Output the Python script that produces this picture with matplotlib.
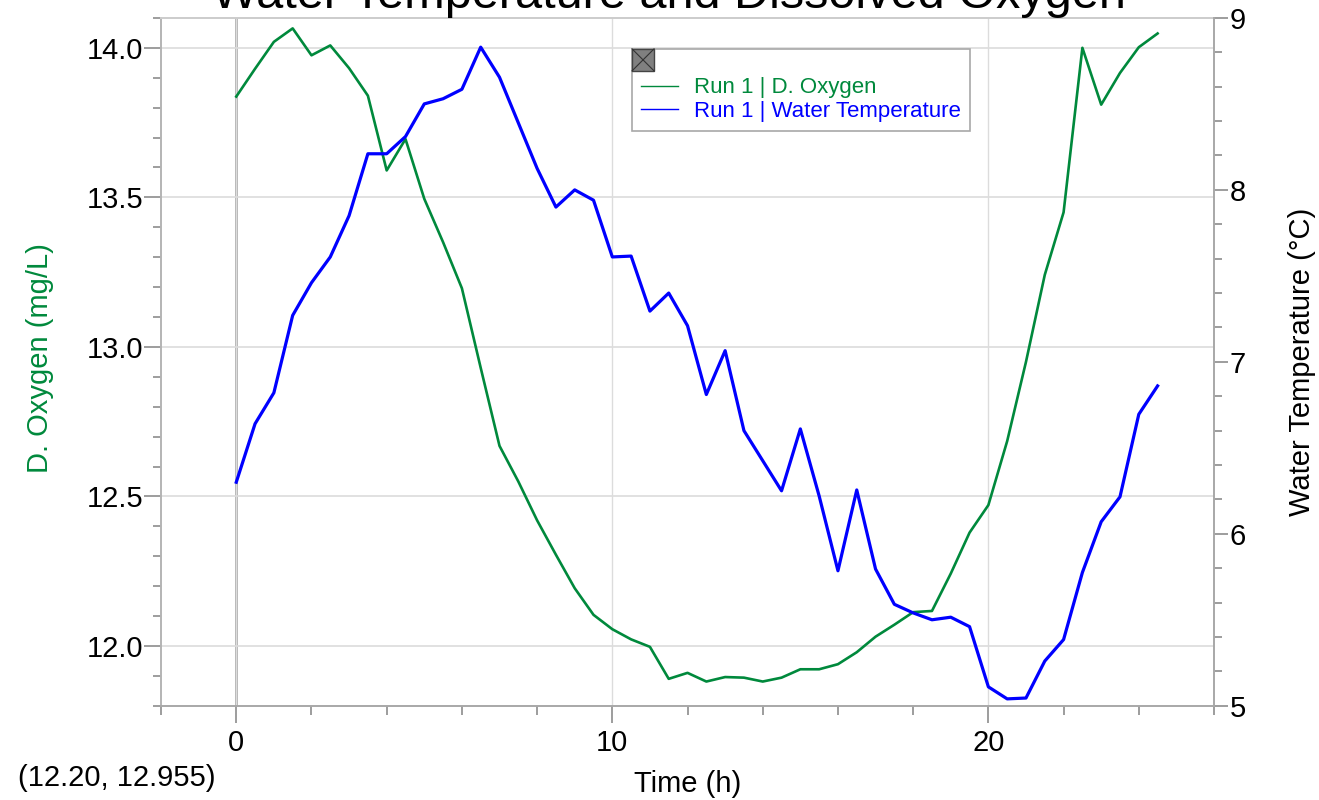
import matplotlib
matplotlib.use("Agg")
import matplotlib.pyplot as plt
from matplotlib.lines import Line2D
from matplotlib.patches import Rectangle
from matplotlib.ticker import MultipleLocator, FixedLocator, FormatStrFormatter

plt.rcParams['font.family'] = ['Liberation Sans', 'DejaVu Sans']

# ---------------------- data ---------------------- #
time_h = [i * 0.5 for i in range(50)]  # samples every half hour, 0 .. 24.5 h

d_oxygen = [13.837, 13.93, 14.02, 14.065, 13.975, 14.008, 13.932, 13.84, 13.59, 13.695,
            13.495, 13.35, 13.196, 12.93, 12.669, 12.55, 12.42, 12.305, 12.193, 12.104,
            12.056, 12.022, 11.997, 11.89, 11.91, 11.881, 11.896, 11.894, 11.881, 11.894,
            11.922, 11.922, 11.939, 11.979, 12.031, 12.071, 12.113, 12.117, 12.242, 12.379,
            12.471, 12.685, 12.95, 13.241, 13.45, 14.0, 13.81, 13.916, 14.002, 14.048]

water_temp = [6.30, 6.64, 6.82, 7.27, 7.46, 7.61, 7.85, 8.21, 8.21, 8.31,
              8.50, 8.53, 8.585, 8.83, 8.655, 8.39, 8.125, 7.90, 8.00, 7.94,
              7.61, 7.615, 7.295, 7.40, 7.21, 6.81, 7.065, 6.60, 6.425, 6.25,
              6.61, 6.22, 5.785, 6.255, 5.795, 5.59, 5.54, 5.50, 5.515, 5.46,
              5.11, 5.04, 5.045, 5.26, 5.385, 5.775, 6.07, 6.215, 6.695, 6.86]

x_major = [0, 10, 20]
status_text = '(12.20, 12.955)'

GREEN = '#00893c'
BLUE = '#0000ff'
TICK_GRAY = '#8c8c8c'
# -------------------------------------------------- #

fig = plt.figure(figsize=(13.19, 8), dpi=100)
ax = fig.add_axes([0.1221, 0.1178, 0.7983, 0.8598])
ax2 = ax.twinx()

ax.set_xlim(-2, 26)
ax.set_ylim(11.8, 14.1)
ax2.set_ylim(5, 9)

# grid + zero line
ax.grid(True, axis='y', which='major', color='#dcdcdc', lw=1.2)
ax.grid(True, axis='x', which='major', color='#dcdcdc', lw=1.0)
ax.axvline(0, color='#9a9a9a', lw=1.8, zorder=1)

ax.plot(time_h, d_oxygen, color=GREEN, lw=1.9, zorder=3)
ax2.plot(time_h, water_temp, color=BLUE, lw=2.3, zorder=3)

# x axis
ax.xaxis.set_major_locator(FixedLocator(x_major))
ax.xaxis.set_minor_locator(MultipleLocator(2))
ax.tick_params(axis='x', which='major', length=12, width=1.2, color=TICK_GRAY,
               labelsize=21, pad=5)
ax.tick_params(axis='x', which='minor', length=6.5, width=1.2, color=TICK_GRAY)

# left axis
ax.yaxis.set_major_locator(MultipleLocator(0.5))
ax.yaxis.set_minor_locator(MultipleLocator(0.1))
ax.yaxis.set_major_formatter(FormatStrFormatter('%.1f'))
ax.tick_params(axis='y', which='major', length=12, width=1.2, color=TICK_GRAY,
               labelsize=21, pad=1)
ax.tick_params(axis='y', which='minor', length=6, width=1.2, color=TICK_GRAY)

# right axis
ax2.set_yticks([5, 6, 7, 8, 9])
ax2.yaxis.set_minor_locator(MultipleLocator(0.2))
ax2.tick_params(axis='y', which='major', length=10, width=1.2, color=TICK_GRAY,
                labelsize=21, pad=1)
ax2.tick_params(axis='y', which='minor', length=6, width=1.2, color=TICK_GRAY)

for s in ['top', 'left', 'bottom']:
    ax2.spines[s].set_visible(False)
ax.spines['right'].set_visible(False)
ax.spines['left'].set_color('#b4b4b4')
ax.spines['top'].set_color('#cccccc')
ax.spines['bottom'].set_color('#a8a8a8')
ax2.spines['right'].set_color('#a8a8a8')
for sp in [ax.spines['left'], ax.spines['top'], ax.spines['bottom'], ax2.spines['right']]:
    sp.set_linewidth(1.4)

# labels
ax.set_xlabel('Time (h)', fontsize=21)
ax.xaxis.set_label_coords(0.5, -0.093)
ax.xaxis.label.set_va('top')
ax.set_ylabel('D. Oxygen (mg/L)', fontsize=21, color=GREEN)
ax.yaxis.set_label_coords(-0.102, 0.505)
ax2.set_ylabel('Water Temperature (\u00b0C)', fontsize=21)
ax2.yaxis.set_label_coords(1.070, 0.5)

fig.text(0.5072, 1 - 8 / 800, 'Water Temperature and Dissolved Oxygen',
         ha='center', va='baseline', fontsize=35)
fig.text(18 / 1319, 1 - 778 / 800, status_text, ha='left', va='center', fontsize=21)

# legend
handles = [Line2D([], [], color=GREEN, lw=1.0),
           Line2D([], [], color=BLUE, lw=1.0)]
labels = ['Run 1 | D. Oxygen', 'Run 1 | Water Temperature']
leg = ax2.legend(handles, labels, loc='upper left', bbox_to_anchor=(0.4473, 0.955),
                 borderaxespad=0, fontsize=16, title=' ', title_fontsize=14,
                 handlelength=1.65, handletextpad=0.75, borderpad=0.4,
                 labelspacing=0.12, fancybox=False, framealpha=1,
                 edgecolor='#a8a8a8')
leg.get_frame().set_linewidth(1.2)
for txt, c in zip(leg.get_texts(), [GREEN, BLUE]):
    txt.set_color(c)

# small close box in the legend corner
ix, iy, iw, ih = 0.4473, 0.955 - 0.032, 0.0209, 0.032
ax2.add_patch(Rectangle((ix, iy), iw, ih, transform=ax2.transAxes, facecolor='#808080',
                        edgecolor='#444444', lw=1.0, zorder=10, clip_on=False))
ax2.plot([ix, ix + iw], [iy, iy + ih], transform=ax2.transAxes, color='#333333',
         lw=0.8, zorder=11, clip_on=False)
ax2.plot([ix, ix + iw], [iy + ih, iy], transform=ax2.transAxes, color='#333333',
         lw=0.8, zorder=11, clip_on=False)

fig.savefig('out.png', dpi=100)
